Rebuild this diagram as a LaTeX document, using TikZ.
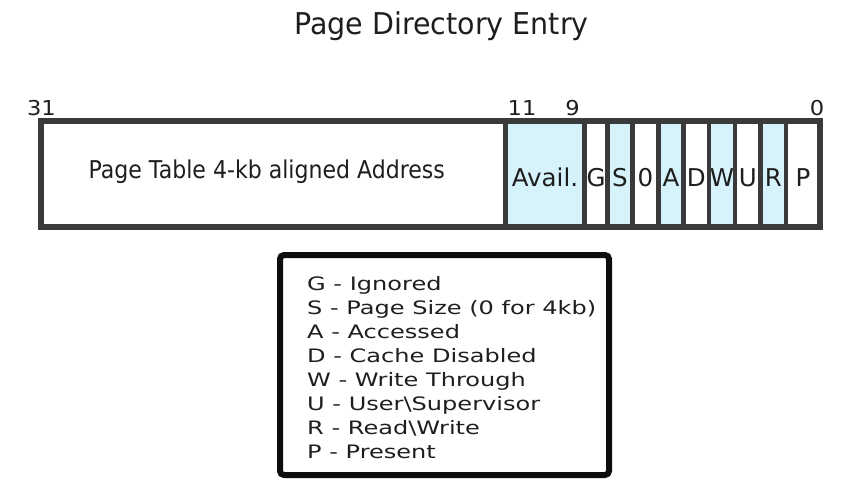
\documentclass[tikz,border=0pt]{standalone}
\usepackage{fontspec}
\setmainfont{DejaVu Sans}
\newfontfamily\fTitle[FakeStretch=0.95]{DejaVu Sans}
\newfontfamily\fAddr[FakeStretch=0.9]{DejaVu Sans}
\newfontfamily\fCell{DejaVu Sans}
\newfontfamily\fLeg[FakeStretch=1.3]{DejaVu Sans}
\newfontfamily\fNum[FakeStretch=1.1]{DejaVu Sans}
\definecolor{cellblue}{RGB}{214,243,252}
\definecolor{edge}{RGB}{58,58,58}
\definecolor{ink}{RGB}{30,30,30}
\begin{document}
\begin{tikzpicture}[x=1pt,y=-1pt,
  cellbox/.style={draw=edge,line width=4.5pt,inner sep=0pt,outer sep=0pt,
    minimum height=106pt,text=ink,font=\fCell\fontsize{24.5}{24.5}\selectfont,
    text height=17.9pt,text depth=0pt},
  bluecell/.style={cellbox,fill=cellblue},
  whitecell/.style={cellbox,fill=white},
  frame/.style={draw=edge,line width=6.5pt},
  bitnum/.style={anchor=base,text=ink,inner sep=0pt,font=\fNum\fontsize{20.5}{20.5}\selectfont},
  legendbox/.style={draw=black!95,line width=6pt,rounded corners=4pt,inner sep=0pt,outer sep=0pt},
  legline/.style={anchor=base west,inner sep=0pt,text=ink,font=\fLeg\fontsize{18.5}{18.5}\selectfont}]
\useasboundingbox (0,0) rectangle (853,487);
\node[anchor=base,text=ink,inner sep=0pt,font=\fTitle\fontsize{30}{30}\selectfont] (title) at (441.5,35) {Page Directory Entry};
% cells
\node[whitecell,minimum width=464.5pt,text height=17.8pt,font=\fAddr\fontsize{24.5}{24.5}\selectfont] (addr) at (273.25,174) {\raisebox{4pt}{Page Table 4-kb aligned Address}\kern13pt};
\node[bluecell,minimum width=79pt] (avail) at (545,174) {\raisebox{-3.5pt}{Avail.}};
\node[whitecell,minimum width=23pt] (g) at (596,174) {\raisebox{-3.5pt}{G}};
\node[bluecell,minimum width=25pt] (s) at (620,174) {\raisebox{-3.5pt}{S}};
\node[whitecell,minimum width=26pt] (z) at (645.5,174) {\raisebox{-3.5pt}{0}};
\node[bluecell,minimum width=25pt] (a) at (671,174) {\raisebox{-3.5pt}{A}};
\node[whitecell,minimum width=25.5pt] (d) at (696.25,174) {\raisebox{-3.5pt}{D}};
\node[bluecell,minimum width=26pt] (w) at (722,174) {\raisebox{-3.5pt}{W}};
\node[whitecell,minimum width=25.5pt] (u) at (747.75,174) {\raisebox{-3.5pt}{U}};
\node[bluecell,minimum width=25.5pt] (r) at (773.25,174) {\raisebox{-3.5pt}{R}};
\node[whitecell,minimum width=34pt] (p) at (803,174) {\raisebox{-3.5pt}{P}};
\draw[frame] (addr.north west) rectangle (p.south east);
% bit numbers
\node[bitnum] (b31) at (41.5,115.5) {31};
\node[bitnum] (b11) at (522,115.5) {11};
\node[bitnum] (b9) at (572.5,115.5) {9};
\node[bitnum] (b0) at (817,115.5) {0};
% legend
\node[legendbox,minimum width=329pt,minimum height=220pt] (legend) at (444.5,365) {};
\foreach \t [count=\i] in {G - Ignored,S - Page Size (0 for 4kb),A - Accessed,D - Cache Disabled,W -  Write Through,U - User\textbackslash Supervisor,R - Read\textbackslash Write,P - Present}
  \node[legline] (l\i) at (307,{290+24.1*(\i-1)}) {\t};
\end{tikzpicture}
\end{document}
